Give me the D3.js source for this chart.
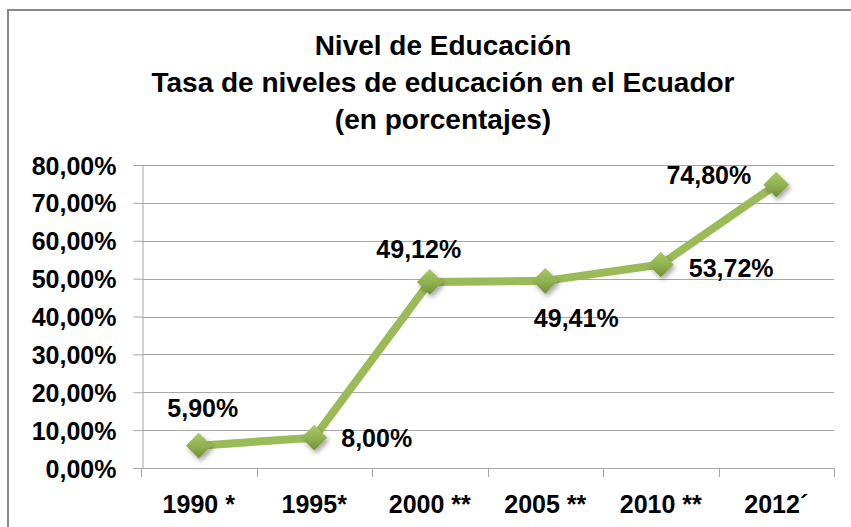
<!DOCTYPE html>
<html>
<head>
<meta charset="utf-8">
<script src="https://cdn.jsdelivr.net/npm/d3@7"></script>
<style>
  body { margin: 0; background: #fff; }
  text { font-family: "Liberation Sans", Arial, sans-serif; font-weight: bold; fill: #000; }
</style>
</head>
<body>
<div id="chart"></div>
<script>
// Data
const years = ["1990 *", "1995*", "2000 **", "2005 **", "2010 **", "2012´"];
const rates = [0.059, 0.080, 0.4912, 0.4941, 0.5372, 0.748];
const rateLabels = ["5,90%", "8,00%", "49,12%", "49,41%", "53,72%", "74,80%"];
const yTicks = [0, 0.1, 0.2, 0.3, 0.4, 0.5, 0.6, 0.7, 0.8];
const titleLines = ["Nivel de Educación", "Tasa de niveles de educación en el Ecuador", "(en porcentajes)"];

// where each data label sits relative to its point (dx, dy, anchor)
const labelPlace = [
    [4, -29, "middle"], [27, 9, "start"], [-11, -24, "middle"],
    [31, 46, "middle"], [28, 12, "start"], [-25, -1, "end"]
];

const W = 851, H = 527;
const svg = d3.select("#chart").append("svg")
    .attr("width", W)
    .attr("height", H);

const defs = svg.append("defs");
const grad = defs.append("linearGradient")
    .attr("id", "mk").attr("x1", 0).attr("y1", 0).attr("x2", 0).attr("y2", 1);
grad.append("stop").attr("offset", "0%").attr("stop-color", "#a9c86a");
grad.append("stop").attr("offset", "55%").attr("stop-color", "#8fb04e");
grad.append("stop").attr("offset", "100%").attr("stop-color", "#6f8e37");
const shadow = defs.append("filter").attr("id", "sh")
    .attr("x", "-50%").attr("y", "-50%").attr("width", "200%").attr("height", "200%");
shadow.append("feDropShadow")
    .attr("dx", 2).attr("dy", 3).attr("stdDeviation", 2.5)
    .attr("flood-color", "#000").attr("flood-opacity", 0.35);

// outer frame (runs off the right/bottom edge like the original)
svg.append("rect")
    .attr("x", 8).attr("y", 10)
    .attr("width", W + 20).attr("height", H + 20)
    .attr("fill", "#fff")
    .attr("stroke", "#888").attr("stroke-width", 2);

// title
svg.append("g").selectAll("text")
    .data(titleLines)
    .join("text")
    .attr("x", 443)
    .attr("y", (d, i) => 55 + i * 37)
    .attr("text-anchor", "middle")
    .attr("font-size", 28)
    .text(d => d);

// scales
const x = d3.scaleBand().domain(years).range([141, 834]);
const y = d3.scaleLinear().domain([0, 0.8]).range([468, 165]);
const cx = d => x(d) + x.bandwidth() / 2;

// gridlines
svg.append("g").selectAll("line")
    .data(yTicks)
    .join("line")
    .attr("x1", 142).attr("x2", 834)
    .attr("y1", d => Math.round(y(d)) + 0.5)
    .attr("y2", d => Math.round(y(d)) + 0.5)
    .attr("stroke", "#a6a6a6");

// y axis
const yAxis = svg.append("g")
    .attr("transform", "translate(142.5,0)")
    .call(d3.axisLeft(y).tickValues(yTicks).tickSize(9).tickPadding(17)
        .tickFormat(d => d3.format(".2f")(d * 100).replace(".", ",") + "%"));
yAxis.select(".domain").attr("stroke", "#a6a6a6");
yAxis.selectAll(".tick line").attr("stroke", "#a6a6a6");
yAxis.selectAll(".tick text")
    .attr("font-size", 25)
    .attr("font-family", "Liberation Sans, Arial, sans-serif")
    .attr("fill", "#000")
    .attr("dy", "0.36em");

// x axis line and ticks at band edges
const xg = svg.append("g");
xg.append("line")
    .attr("x1", 141).attr("x2", 834.5)
    .attr("y1", 468.5).attr("y2", 468.5)
    .attr("stroke", "#a6a6a6");
xg.selectAll("line.tk")
    .data(years.map(d => x(d)).concat([x.range()[1]]))
    .join("line")
    .attr("class", "tk")
    .attr("x1", d => Math.round(d) + 0.5).attr("x2", d => Math.round(d) + 0.5)
    .attr("y1", 468).attr("y2", 477)
    .attr("stroke", "#a6a6a6");
xg.selectAll("text")
    .data(years)
    .join("text")
    .attr("x", d => cx(d))
    .attr("y", 513)
    .attr("text-anchor", "middle")
    .attr("font-size", 25)
    .text(d => d);

// line
const pts = years.map((d, i) => [cx(d), y(rates[i])]);
svg.append("path")
    .datum(pts)
    .attr("d", d3.line())
    .attr("fill", "none")
    .attr("stroke", "#9bbb59")
    .attr("stroke-width", 8)
    .attr("stroke-linejoin", "round");

// diamond markers
svg.append("g").selectAll("path")
    .data(pts)
    .join("path")
    .attr("transform", d => `translate(${d[0]},${d[1]})`)
    .attr("d", d3.symbol(d3.symbolDiamond2, 420))
    .attr("fill", "url(#mk)")
    .attr("filter", "url(#sh)");

// data labels
svg.append("g").selectAll("text")
    .data(rateLabels)
    .join("text")
    .attr("x", (d, i) => pts[i][0] + labelPlace[i][0])
    .attr("y", (d, i) => pts[i][1] + labelPlace[i][1])
    .attr("text-anchor", (d, i) => labelPlace[i][2])
    .attr("font-size", 25)
    .text(d => d);
</script>
</body>
</html>
